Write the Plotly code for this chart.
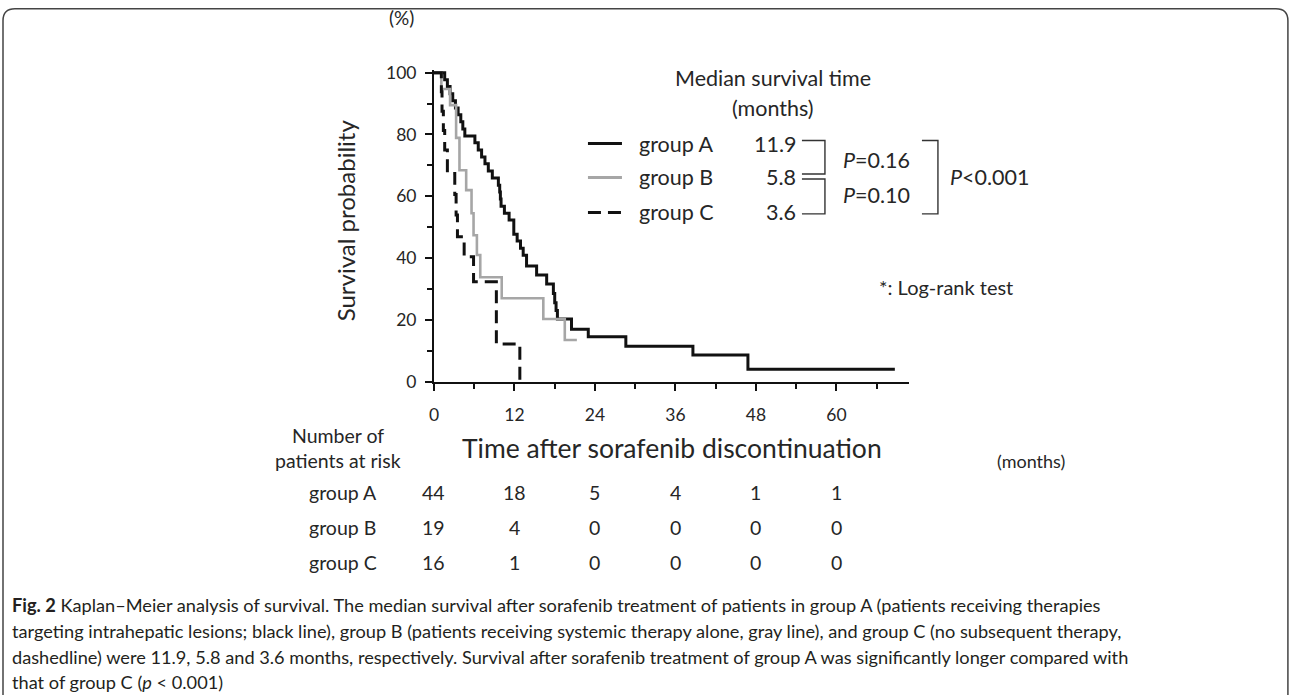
import plotly.graph_objects as go

W, H = 1292, 695

# ---------------- data ----------------
time_a = [0, 1.6, 2.0, 2.4, 2.8, 3.2, 3.6, 4.0, 4.3, 4.6, 6.1, 6.6, 7.1, 7.6, 8.1, 8.7,
          9.6, 9.8, 9.9, 10.0, 10.5, 11.2, 11.9, 12.4, 12.9, 13.3, 13.8, 15.3, 16.8,
          17.8, 18.0, 18.2, 18.4, 20.5, 23.0, 28.6, 38.6, 46.8, 68.7]
surv_a = [100, 97.7, 95.5, 93.2, 90.9, 88.6, 86.4, 84.1, 81.8, 79.5, 77.3, 75.0, 72.7,
          70.5, 68.2, 65.9, 63.6, 61.4, 59.1, 56.8, 54.5, 52.3, 47.7, 45.5, 43.2, 40.9,
          37.4, 34.5, 31.6, 28.5, 25.5, 23.0, 20.3, 17.0, 14.5, 11.5, 8.6, 4.0, 4.0]

time_b = [0, 1.1, 2.4, 3.3, 3.8, 4.8, 5.6, 5.9, 6.4, 6.9, 10.1, 16.3, 19.5, 21.3]
surv_b = [100, 94.7, 89.5, 78.9, 68.4, 62.0, 54.5, 47.4, 41.0, 33.8, 27.0, 20.3, 13.5, 13.5]

time_c = [0, 1.1, 1.2, 1.4, 1.6, 2.0, 3.1, 3.3, 3.5, 4.5, 5.9, 9.3, 12.8]
surv_c = [100, 93.8, 87.5, 81.3, 75.0, 67.4, 60.6, 53.9, 46.9, 40.4, 32.3, 12.2, 0]

x_ticks = [0, 12, 24, 36, 48, 60]
x_minor = [6, 18, 30, 42, 54, 66]
y_ticks = [0, 20, 40, 60, 80, 100]
y_minor = [10, 30, 50, 70, 90]

group_names = ["group A", "group B", "group C"]
risk_a = [44, 18, 5, 4, 1, 1]
risk_b = [19, 4, 0, 0, 0, 0]
risk_c = [16, 1, 0, 0, 0, 0]
median_months = ["11.9", "5.8", "3.6"]
p_ab, p_bc, p_ac = "0.16", "0.10", "0.001"

caption_lines = [
    "<b>Fig. 2</b> Kaplan–Meier analysis of survival. The median survival after sorafenib treatment of patients in group A (patients receiving therapies",
    "targeting intrahepatic lesions; black line), group B (patients receiving systemic therapy alone, gray line), and group C (no subsequent therapy,",
    "dashedline) were 11.9, 5.8 and 3.6 months, respectively. Survival after sorafenib treatment of group A was significantly longer compared with",
    "that of group C (<i>p</i> &lt; 0.001)",
]

# ---------------- styling ----------------
FONT = "Lato, 'Open Sans', sans-serif"
TXT = "#262626"
BLACK = "#111111"
GRAY = "#a6a6a6"

# map reference pixel positions to paper coordinates
SX, OX = 0.9962, 5.0
SY, OY = 0.976, 7.2


def fx(px):
    return ((px - OX) / SX) / W


def fy(py):
    return 1 - ((py - OY) / SY) / H


fig = go.Figure()
fig.add_trace(go.Scatter(x=time_a, y=surv_a, mode="lines", name="group A",
                         line=dict(shape="hv", color=BLACK, width=3), showlegend=False))
fig.add_trace(go.Scatter(x=time_b, y=surv_b, mode="lines", name="group B",
                         line=dict(shape="hv", color=GRAY, width=2.6), showlegend=False))
fig.add_trace(go.Scatter(x=time_c, y=surv_c, mode="lines", name="group C",
                         line=dict(shape="hv", color=BLACK, width=3, dash="13px,7px"),
                         showlegend=False))

ann = []


def text(s, x, y, size=17, anchor="center", color=TXT, angle=0, xref="paper"):
    ann.append(dict(text=s, x=x if xref != "paper" else fx(x), y=fy(y), xref=xref, yref="paper",
                    showarrow=False, xanchor=anchor, yanchor="middle", textangle=angle,
                    font=dict(family=FONT, size=size, color=color)))


# axis titles
text("(%)", 402, 17, 19)
text("Survival probability", 345, 220, 24, angle=-90)
text("Time after sorafenib discontinuation", 672, 448, 26.5)
text("(months)", 1031, 461, 18)

# at-risk table
text("Number of", 338, 436, 19.5)
text("patients at risk", 338, 461, 19.5)
rows_y = [493, 528, 563]
for name, vals, ry in zip(group_names, [risk_a, risk_b, risk_c], rows_y):
    text(name, 343, ry, 19.5)
    for xv, v in zip(x_ticks, vals):
        text(str(v), xv, ry, 19.5, xref="x")

# median block
text("Median survival time", 773, 77, 21.5)
text("(months)", 773, 107, 21.5)
leg_y = [143, 177, 212]
for name, med, ly in zip(group_names, median_months, leg_y):
    text(name, 637, ly, 21.5, anchor="left")
    text(med, 798, ly, 21.5, anchor="right")

text("<i>P</i>=" + p_ab, 877, 159, 21.5)
text("<i>P</i>=" + p_bc, 877, 195, 21.5)
text("<i>P</i>&lt;" + p_ac, 948, 177, 21.5, anchor="left")
text("*: Log-rank test", 877, 287, 20, anchor="left")

# caption
for i, line in enumerate(caption_lines):
    text(line, 10, 605 + i * 26, 18.2, anchor="left", color="#231f20")

shapes = []


def hline(x0, x1, y, color, width, dash=None):
    ln = dict(color=color, width=width)
    if dash:
        ln["dash"] = dash
    return dict(type="line", xref="paper", yref="paper", x0=fx(x0), x1=fx(x1), y0=fy(y), y1=fy(y), line=ln)


# legend line samples
shapes.append(hline(588, 622, 143, BLACK, 3))
shapes.append(hline(588, 622, 177, GRAY, 3))
shapes.append(hline(588, 622, 212, BLACK, 3, "13px,7px"))


def bracket(x0, x1, y0, y1):
    return dict(type="path", xref="paper", yref="paper",
                path=f"M {fx(x0)},{fy(y0)} L {fx(x1)},{fy(y0)} L {fx(x1)},{fy(y1)} L {fx(x0)},{fy(y1)}",
                line=dict(color="#333", width=1.4))


shapes.append(bracket(802, 825, 140, 173.5))
shapes.append(bracket(802, 825, 178.5, 213.5))
shapes.append(bracket(922, 938, 140, 213.5))

# outer rounded frame
frame = (f"M {fx(3)},{fy(730)} L {fx(3)},{fy(20)} Q {fx(3)},{fy(8)} {fx(15)},{fy(8)} "
         f"L {fx(1276)},{fy(8)} Q {fx(1288)},{fy(8)} {fx(1288)},{fy(20)} L {fx(1288)},{fy(730)}")
shapes.append(dict(type="path", xref="paper", yref="paper", path=frame,
                   line=dict(color="#444", width=1.5)))

axis_common = dict(showline=True, linecolor=BLACK, linewidth=2, showgrid=False, zeroline=False,
                   ticks="outside", ticklen=7, tickwidth=1.5, tickcolor=BLACK,
                   tickfont=dict(family=FONT, size=17.5, color=TXT))

fig.update_layout(
    width=W, height=H,
    margin=dict(l=0, r=0, t=0, b=0),
    paper_bgcolor="white", plot_bgcolor="white",
    xaxis=dict(domain=[fx(434), fx(909)], range=[0, 70.8], tickvals=x_ticks,
               minor=dict(tickvals=x_minor, ticks="outside", ticklen=5, tickwidth=1.5, tickcolor=BLACK),
               ticklabelstandoff=9, **axis_common),
    yaxis=dict(domain=[fy(381.6), fy(69.5)], range=[0, 100.8], tickvals=y_ticks,
               minor=dict(tickvals=y_minor, ticks="outside", ticklen=5, tickwidth=1.5, tickcolor=BLACK),
               ticklabelstandoff=5, **axis_common),
    annotations=ann,
    shapes=shapes,
    showlegend=False,
)

fig.write_html("out.html", config={"displayModeBar": False},
               post_script="document.body.style.margin='0';document.body.style.overflow='hidden';")
